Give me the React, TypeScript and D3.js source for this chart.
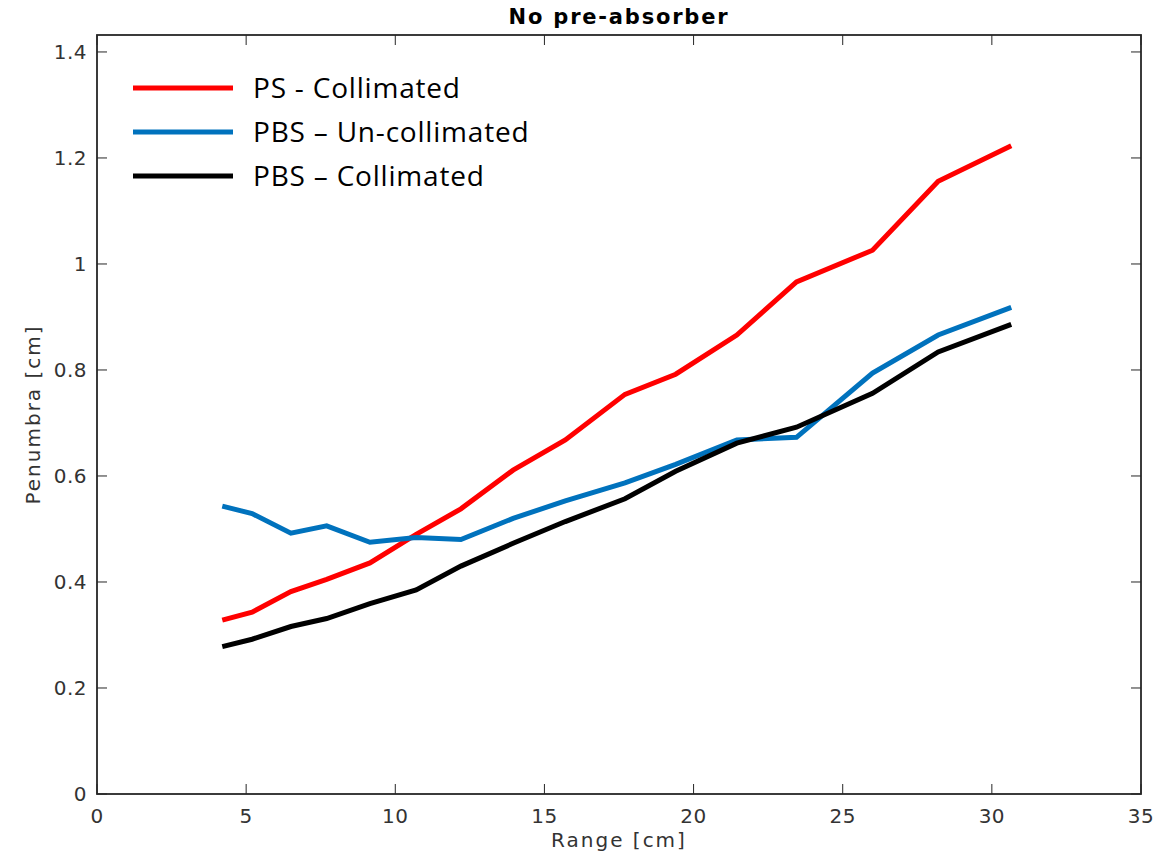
import React from 'react';
import * as d3 from 'd3';

// ranges [cm] shared by all three curves
const ranges = [4.2, 5.2, 6.5, 7.7, 9.15, 10.7, 12.2, 13.95, 15.7, 17.7, 19.4, 21.45, 23.45, 26.0, 28.2, 30.65];

const psCollimated = [0.328, 0.343, 0.382, 0.405, 0.436, 0.49, 0.538, 0.611, 0.668, 0.754, 0.792, 0.866, 0.966, 1.026, 1.156, 1.223];
const pbsUncollimated = [0.543, 0.529, 0.492, 0.506, 0.475, 0.484, 0.48, 0.52, 0.553, 0.587, 0.622, 0.668, 0.673, 0.794, 0.866, 0.918];
const pbsCollimated = [0.278, 0.292, 0.316, 0.331, 0.359, 0.385, 0.43, 0.473, 0.514, 0.557, 0.609, 0.662, 0.692, 0.756, 0.834, 0.886];

const seriesNames = ['PS - Collimated', 'PBS \u2013 Un-collimated', 'PBS \u2013 Collimated'];
const seriesColors = ['#ff0000', '#0072bd', '#000000'];

const xTicks = [0, 5, 10, 15, 20, 25, 30, 35];
const yTicks = [0, 0.2, 0.4, 0.6, 0.8, 1, 1.2, 1.4];

const App = () => {
  const W = 1167, H = 859;
  const margin = { top: 35, right: 26, bottom: 65, left: 97 };
  const width = W - margin.left - margin.right;
  const height = H - margin.top - margin.bottom;

  const x = d3.scaleLinear().domain([0, 35]).range([0, width]);
  const y = d3.scaleLinear().domain([0, 1.432]).range([height, 0]);

  const line = d3.line<number>()
    .x((d, i) => x(ranges[i]))
    .y((d) => y(d));

  const allSeries = [psCollimated, pbsUncollimated, pbsCollimated];
  const axisColor = '#262626';
  const tickFont = 'DejaVu Sans, sans-serif';
  const tickLen = 10;

  return (
    <svg width={W} height={H} style={{ position: 'absolute', left: 0, top: 0, background: '#fff' }}>
      <text x={margin.left + width / 2} y={24} textAnchor="middle" fontFamily={tickFont} fontWeight="bold" fontSize={21} letterSpacing={1.8} fill="#000">
        No pre-absorber
      </text>
      <g transform={`translate(${margin.left},${margin.top})`}>
        {allSeries.map((s, i) => (
          <path key={i} d={line(s) || ''} fill="none" stroke={seriesColors[i]} strokeWidth={5} />
        ))}

        <rect x={0} y={0} width={width} height={height} fill="none" stroke={axisColor} strokeWidth={1.8} />

        {xTicks.map((t) => (
          <g key={'x' + t}>
            <line x1={x(t)} x2={x(t)} y1={height} y2={height - tickLen} stroke={axisColor} strokeWidth={1} />
            <line x1={x(t)} x2={x(t)} y1={0} y2={tickLen} stroke={axisColor} strokeWidth={1} />
            <text x={x(t)} y={height + 29} textAnchor="middle" fontFamily={tickFont} fontSize={20} letterSpacing={0.5} fill="#333">{t}</text>
          </g>
        ))}
        {yTicks.map((t) => (
          <g key={'y' + t}>
            <line x1={0} x2={tickLen} y1={y(t)} y2={y(t)} stroke={axisColor} strokeWidth={1} />
            <line x1={width} x2={width - tickLen} y1={y(t)} y2={y(t)} stroke={axisColor} strokeWidth={1} />
            <text x={-10} y={y(t) + 7} textAnchor="end" fontFamily={tickFont} fontSize={20} letterSpacing={0.5} fill="#333">{t}</text>
          </g>
        ))}

        <text x={width / 2} y={height + 53} textAnchor="middle" fontFamily={tickFont} fontSize={20} letterSpacing={2} fill="#333">Range [cm]</text>
        <text transform={`translate(${-57},${height / 2}) rotate(-90)`} textAnchor="middle" fontFamily={tickFont} fontSize={20} letterSpacing={2} fill="#333">Penumbra [cm]</text>

        {seriesNames.map((name, i) => (
          <g key={name} transform={`translate(36,${53 + i * 44})`}>
            <line x1={0} x2={100} y1={0} y2={0} stroke={seriesColors[i]} strokeWidth={5} />
            <text x={120} y={10} fontFamily="Open Sans, sans-serif" fontSize={28} letterSpacing={0.8} fill="#000">{name}</text>
          </g>
        ))}
      </g>
    </svg>
  );
};

export default App;
